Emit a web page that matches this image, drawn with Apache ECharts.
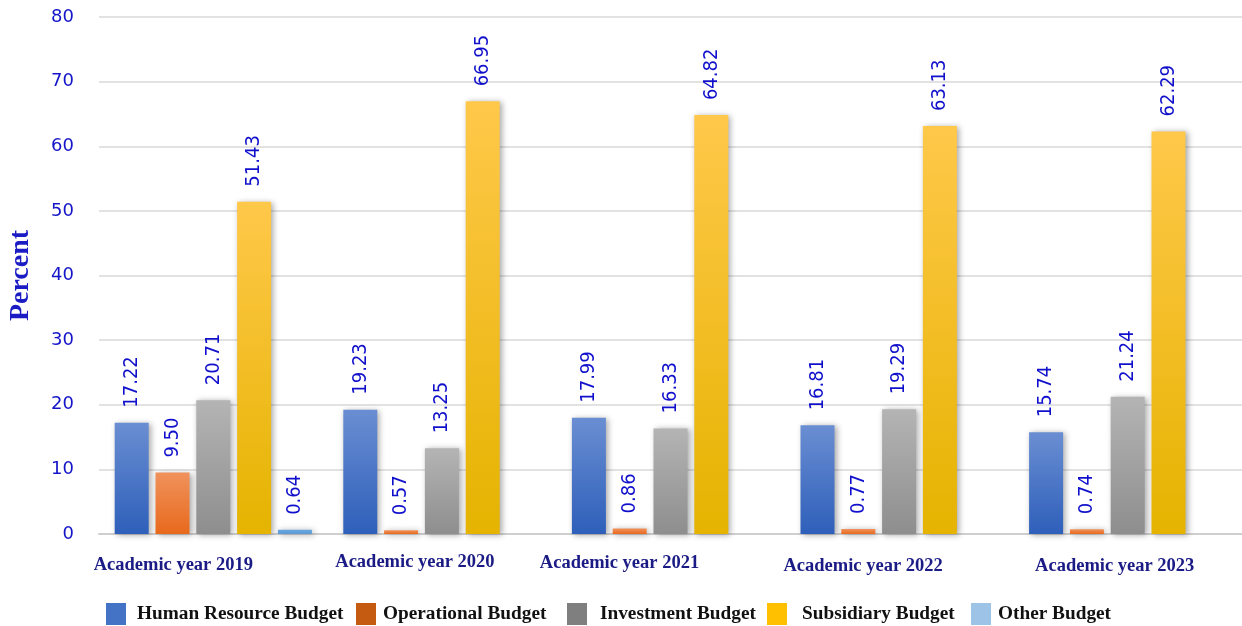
<!DOCTYPE html>
<html>
<head>
<meta charset="utf-8">
<script src="https://cdn.jsdelivr.net/npm/echarts@6/dist/echarts.min.js"></script>
<style>
html,body{margin:0;padding:0;background:#fff;}
#chart{width:1242px;height:626px;}
</style>
</head>
<body>
<div id="chart"></div>
<script>
const categories = ['Academic year 2019','Academic year 2020','Academic year 2021','Academic year 2022','Academic year 2023'];
const seriesNames = ['Human Resource Budget','Operational Budget','Investment Budget','Subsidiary Budget','Other Budget'];
const humanResource = [17.22, 19.23, 17.99, 16.81, 15.74];
const operational = [9.50, 0.57, 0.86, 0.77, 0.74];
const investment = [20.71, 13.25, 16.33, 19.29, 21.24];
const subsidiary = [51.43, 66.95, 64.82, 63.13, 62.29];
const other = [0.64, null, null, null, null];
const yTicks = [0, 10, 20, 30, 40, 50, 60, 70, 80];

const seriesData = [humanResource, operational, investment, subsidiary, other];
const gradients = [
  ['#6a8ed2', '#2e5fba'],
  ['#f0925c', '#e8691c'],
  ['#b4b4b4', '#8e8e8e'],
  ['#ffc84a', '#e5b300'],
  ['#6aa6e0', '#5b9bd5']
];
const legendColors = ['#4472c4', '#c55a11', '#7f7f7f', '#ffc000', '#9dc3e6'];
const legendLeft = [106, 356, 567, 767, 971];
const legendPad = [6, 2, 8, 10, 2];

const chart = echarts.init(document.getElementById('chart'), null, {renderer: 'canvas'});

const xShift = [40, 27, 51, 36, 13];
const yShift = [3, 0, 1, 4, 4];
const rich = {};
xShift.forEach((s, i) => {
  rich['l' + i] = {
    fontFamily: "'Liberation Serif', 'Times New Roman', serif",
    fontWeight: 'bold',
    fontSize: 18.5,
    color: '#1b1b86',
    padding: [yShift[i], 2 * s, 0, 0]
  };
});

const option = {
  animation: false,
  backgroundColor: '#ffffff',
  grid: {left: 99, right: 0, top: 17, bottom: 92, containLabel: false, outerBoundsMode: 'none'},
  legend: seriesNames.map((n, i) => ({
    left: legendLeft[i],
    top: 603,
    padding: 0,
    itemWidth: 20,
    itemHeight: 22,
    itemGap: 0,
    selectedMode: false,
    icon: 'rect',
    data: [{name: n, itemStyle: {color: legendColors[i], shadowBlur: 0, shadowOffsetX: 0, shadowOffsetY: 0}}],
    textStyle: {
      fontFamily: "'Liberation Serif', 'Times New Roman', serif",
      fontWeight: 'bold',
      fontSize: 19.3,
      color: '#111111',
      padding: [0, 0, 0, legendPad[i]]
    }
  })),
  xAxis: {
    type: 'category',
    data: categories,
    axisTick: {show: false},
    axisLine: {show: true, lineStyle: {color: '#cfcfcf', width: 2}},
    axisLabel: {
      margin: 19,
      interval: 0,
      formatter: (v, i) => '{l' + i + '|' + v + '}',
      rich: rich
    }
  },
  yAxis: {
    type: 'value',
    min: yTicks[0],
    max: yTicks[yTicks.length - 1],
    interval: 10,
    name: 'Percent',
    nameLocation: 'middle',
    nameGap: 64,
    nameRotate: 90,
    nameTextStyle: {
      fontFamily: "'Liberation Serif', 'Times New Roman', serif",
      fontWeight: 'bold',
      fontSize: 28,
      color: '#1c1cc4'
    },
    axisLine: {show: false},
    axisTick: {show: false},
    axisLabel: {
      margin: 25,
      fontFamily: "'DejaVu Sans', Verdana, sans-serif",
      fontSize: 18,
      color: '#1414c8'
    },
    splitLine: {lineStyle: {color: '#d9d9d9', width: 1.5}}
  },
  series: seriesNames.map((n, i) => ({
    name: n,
    type: 'bar',
    data: seriesData[i],
    barWidth: 34,
    barGap: '20%',
    itemStyle: {
      color: new echarts.graphic.LinearGradient(0, 0, 0, 1, [
        {offset: 0, color: gradients[i][0]},
        {offset: 1, color: gradients[i][1]}
      ]),
      shadowColor: 'rgba(0,0,0,0.35)',
      shadowBlur: 6,
      shadowOffsetX: 2,
      shadowOffsetY: 1
    },
    label: {
      show: true,
      position: 'top',
      rotate: 90,
      align: 'left',
      verticalAlign: 'middle',
      distance: 15,
      fontFamily: "'DejaVu Sans Condensed', 'DejaVu Sans', sans-serif",
      fontSize: 20,
      color: '#1010cc',
      formatter: p => (p.value == null ? '' : Number(p.value).toFixed(2))
    }
  }))
};
chart.setOption(option);
</script>
</body>
</html>
